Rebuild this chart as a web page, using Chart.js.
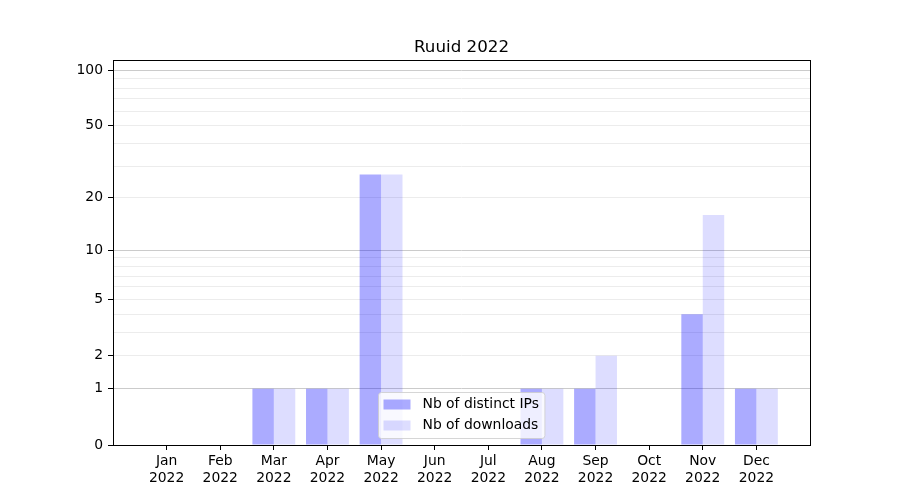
<!DOCTYPE html>
<html>
<head>
<meta charset="utf-8">
<script src="https://cdn.jsdelivr.net/npm/chart.js@4/dist/chart.umd.min.js"></script>
<style>
  html, body { margin: 0; padding: 0; background: #fff; }
  #wrap { width: 900px; height: 500px; }
</style>
</head>
<body>
<div id="wrap"><canvas id="chart"></canvas></div>
<script>
const months = ["Jan", "Feb", "Mar", "Apr", "May", "Jun", "Jul", "Aug", "Sep", "Oct", "Nov", "Dec"];
const year = "2022";
const distinctIps = [0, 0, 1, 1, 27, 0, 0, 1, 1, 0, 4, 1];
const downloads = [0, 0, 1, 1, 27, 0, 0, 1, 2, 0, 16, 1];
const yTickLabels = [0, 1, 2, 5, 10, 20, 50, 100];
const yGridValues = [0, 1, 2, 3, 4, 5, 6, 7, 8, 9, 10, 20, 30, 40, 50, 60, 70, 80, 90, 100];
const yMajor = [1, 10, 100];
const yMax = 113.5;

const FONT = "'DejaVu Sans', sans-serif";
const f = v => Math.log10(1 + v);

// y axis is log10(1 + x)
class Log1pScale extends Chart.LinearScale {
  determineDataLimits() {
    this.min = 0;
    this.max = yMax;
  }
  buildTicks() {
    return yGridValues.map(v => ({ value: v }));
  }
  configure() {
    super.configure();
    this._startValue = f(this.min);
    this._valueRange = f(this.max) - f(this.min);
  }
  getPixelForValue(v) {
    if (v === undefined || v === null || isNaN(v)) return NaN;
    return this.getPixelForDecimal((f(v) - this._startValue) / this._valueRange);
  }
  getValueForPixel(p) {
    return Math.pow(10, this._startValue + this.getDecimalForPixel(p) * this._valueRange) - 1;
  }
}
Log1pScale.id = "log1p";
Log1pScale.defaults = {};
Chart.register(Log1pScale);

const framePlugin = {
  id: "frame",
  afterDraw(chart) {
    const { ctx, chartArea: a } = chart;
    ctx.save();
    // axes box
    ctx.strokeStyle = "#000";
    ctx.lineWidth = 1;
    ctx.strokeRect(Math.round(a.left) + 0.5, Math.round(a.top) + 0.5,
      Math.round(a.right - a.left), Math.round(a.bottom - a.top));

    // title
    ctx.fillStyle = "#000";
    ctx.font = "16.7px " + FONT;
    ctx.textAlign = "center";
    ctx.textBaseline = "alphabetic";
    ctx.fillText("Ruuid " + year, (a.left + a.right) / 2, a.top - 8);

    // legend, lower center inside the axes
    const ds = chart.data.datasets;
    ctx.font = "13.9px " + FONT;
    let tw = 0;
    ds.forEach(d => { tw = Math.max(tw, ctx.measureText(d.label).width); });
    const bw = 5 + 28 + 11 + tw + 6;
    const bh = 46;
    const bx = Math.round((a.left + a.right) / 2 - bw / 2) + 0.5;
    const by = Math.round(a.bottom - 7 - bh) + 0.5;
    ctx.beginPath();
    ctx.roundRect(bx, by, bw, bh, 3);
    ctx.fillStyle = "rgba(255,255,255,0.8)";
    ctx.fill();
    ctx.strokeStyle = "rgba(204,204,204,0.8)";
    ctx.stroke();
    ds.forEach((d, i) => {
      const ry = by + 7 + i * 21;
      ctx.fillStyle = d.backgroundColor;
      ctx.fillRect(bx + 5, ry, 27, 10);
      ctx.fillStyle = "#000";
      ctx.textAlign = "left";
      ctx.textBaseline = "middle";
      ctx.fillText(d.label, bx + 44, ry + 5);
    });
    ctx.restore();
  }
};

new Chart(document.getElementById("chart"), {
  type: "bar",
  data: {
    datasets: [
      {
        label: "Nb of distinct IPs",
        data: distinctIps.map((v, i) => ({ x: i, y: v })),
        backgroundColor: "rgba(0,0,255,0.33)",
        categoryPercentage: 0.8,
        barPercentage: 1.0
      },
      {
        label: "Nb of downloads",
        data: downloads.map((v, i) => ({ x: i, y: v })),
        backgroundColor: "rgba(0,0,255,0.133)",
        categoryPercentage: 0.8,
        barPercentage: 1.0
      }
    ]
  },
  options: {
    responsive: true,
    maintainAspectRatio: false,
    animation: false,
    layout: { padding: { left: 0, right: 90, top: 60, bottom: 0 } },
    plugins: {
      legend: { display: false },
      title: { display: false },
      tooltip: { enabled: false }
    },
    scales: {
      x: {
        type: "linear",
        min: -1,
        max: 12,
        offset: false,
        afterBuildTicks: scale => { scale.ticks = months.map((m, i) => ({ value: i })); },
        afterFit: scale => { scale.height = 55; },
        border: { display: false },
        grid: { offset: false, drawOnChartArea: false, drawTicks: true, tickLength: 5, tickColor: "#000" },
        ticks: {
          autoSkip: false,
          maxRotation: 0,
          padding: 3,
          color: "#000",
          font: { family: FONT, size: 13.9 },
          callback: v => [months[v], year]
        }
      },
      y: {
        type: "log1p",
        afterFit: scale => { scale.width = 113; },
        border: { display: false },
        grid: {
          drawTicks: true,
          tickLength: 5,
          color: ctx => {
            const v = ctx.tick ? ctx.tick.value : null;
            if (v === 0) return "rgba(0,0,0,0)";
            return yMajor.includes(v) ? "#cbcbcb" : "#ececec";
          },
          tickColor: ctx => (ctx.tick && yTickLabels.includes(ctx.tick.value)) ? "#000" : "rgba(0,0,0,0)"
        },
        ticks: {
          autoSkip: false,
          padding: 5,
          color: "#000",
          font: { family: FONT, size: 13.9 },
          callback: v => yTickLabels.includes(v) ? String(v) : ""
        }
      }
    }
  },
  plugins: [framePlugin]
});
</script>
</body>
</html>
